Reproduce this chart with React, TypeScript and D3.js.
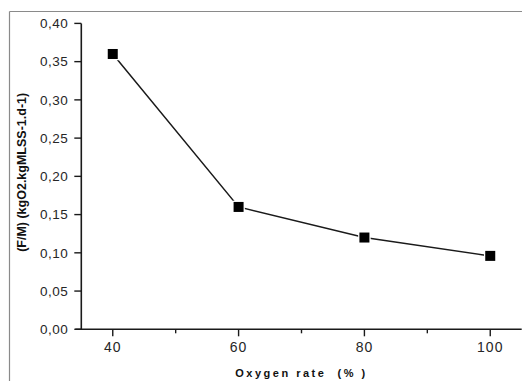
import React from "react";
import * as d3 from "d3";

const oxygenRate = [40, 60, 80, 100];
const fmRatio = [0.36, 0.16, 0.12, 0.096];
const xMajorTicks = [40, 60, 80, 100];
const xMinorTicks = [50, 70, 90];
const yTicks = [0, 0.05, 0.1, 0.15, 0.2, 0.25, 0.3, 0.35, 0.4];
const xTitle = "Oxygen rate  (% )";
const yTitle = "(F/M) (kgO2.kgMLSS-1.d-1)";

const W = 522;
const H = 381;

export default function App() {
  const x = d3.scaleLinear().domain([35, 105]).range([81.3, 521.7]);
  const y = d3.scaleLinear().domain([0, 0.4]).range([329.3, 23.4]);
  const line = d3
    .line<number>()
    .x((_, i) => x(oxygenRate[i]))
    .y((d) => y(d));
  const fmt = (v: number) => v.toFixed(2).replace(".", ",");
  const font = "'Liberation Sans', Arial, sans-serif";
  const ink = "#1a1a1a";
  const x0 = x.range()[0];
  const yBase = y(0);

  return (
    <svg
      width={W}
      height={H}
      style={{ position: "absolute", left: 0, top: 0, background: "#fff" }}
      fontFamily={font}
    >
      <rect x={0} y={0} width={W} height={H} fill="#fff" />
      {/* outer frame */}
      <line x1={9.5} y1={11.5} x2={W} y2={11.5} stroke="#8a8a8a" strokeWidth={1.2} />
      <line x1={9.5} y1={11.5} x2={9.5} y2={H} stroke="#8a8a8a" strokeWidth={1.2} />

      {/* axes */}
      <line x1={x0} y1={y(0.4)} x2={x0} y2={yBase} stroke={ink} strokeWidth={1.6} />
      <line x1={x0 - 6} y1={yBase} x2={x.range()[1]} y2={yBase} stroke={ink} strokeWidth={1.6} />

      {yTicks.map((t) => (
        <g key={"y" + t}>
          <line x1={x0 - 7} x2={x0} y1={y(t)} y2={y(t)} stroke={ink} strokeWidth={1.4} />
          <text
            x={x0 - 13}
            y={y(t)}
            dy="0.36em"
            textAnchor="end"
            fontSize={13.5}
            letterSpacing={0.5}
            fill="#262626"
          >
            {fmt(t)}
          </text>
        </g>
      ))}

      {xMajorTicks.map((t) => (
        <g key={"x" + t}>
          <line x1={x(t)} x2={x(t)} y1={yBase} y2={yBase + 7} stroke={ink} strokeWidth={1.4} />
          <text
            x={x(t)}
            y={352}
            textAnchor="middle"
            fontSize={14}
            letterSpacing={1}
            fill="#262626"
          >
            {t}
          </text>
        </g>
      ))}
      {xMinorTicks.map((t) => (
        <line key={"m" + t} x1={x(t)} x2={x(t)} y1={yBase} y2={yBase + 4} stroke={ink} strokeWidth={1.4} />
      ))}

      {/* series */}
      <path d={line(fmRatio) || ""} fill="none" stroke="#1a1a1a" strokeWidth={1.5} />
      {fmRatio.map((v, i) => (
        <rect
          key={"p" + i}
          x={x(oxygenRate[i]) - 5}
          y={y(v) - 5}
          width={10}
          height={10}
          fill="#000"
          stroke="#fff"
          strokeWidth={2.5}
          paintOrder="stroke"
        />
      ))}

      {/* titles */}
      <text
        x={(x.range()[0] + x.range()[1]) / 2}
        y={377}
        textAnchor="middle"
        fontSize={11}
        fontWeight="bold"
        letterSpacing={2.5}
        fill="#111"
        style={{ whiteSpace: "pre" }}
      >
        {xTitle}
      </text>
      <text
        transform={`translate(25.5, ${(y(0) + y(0.4)) / 2 - 4}) rotate(-90)`}
        textAnchor="middle"
        fontSize={12.5}
        fontWeight="bold"
        fill="#111"
      >
        {yTitle}
      </text>
    </svg>
  );
}
